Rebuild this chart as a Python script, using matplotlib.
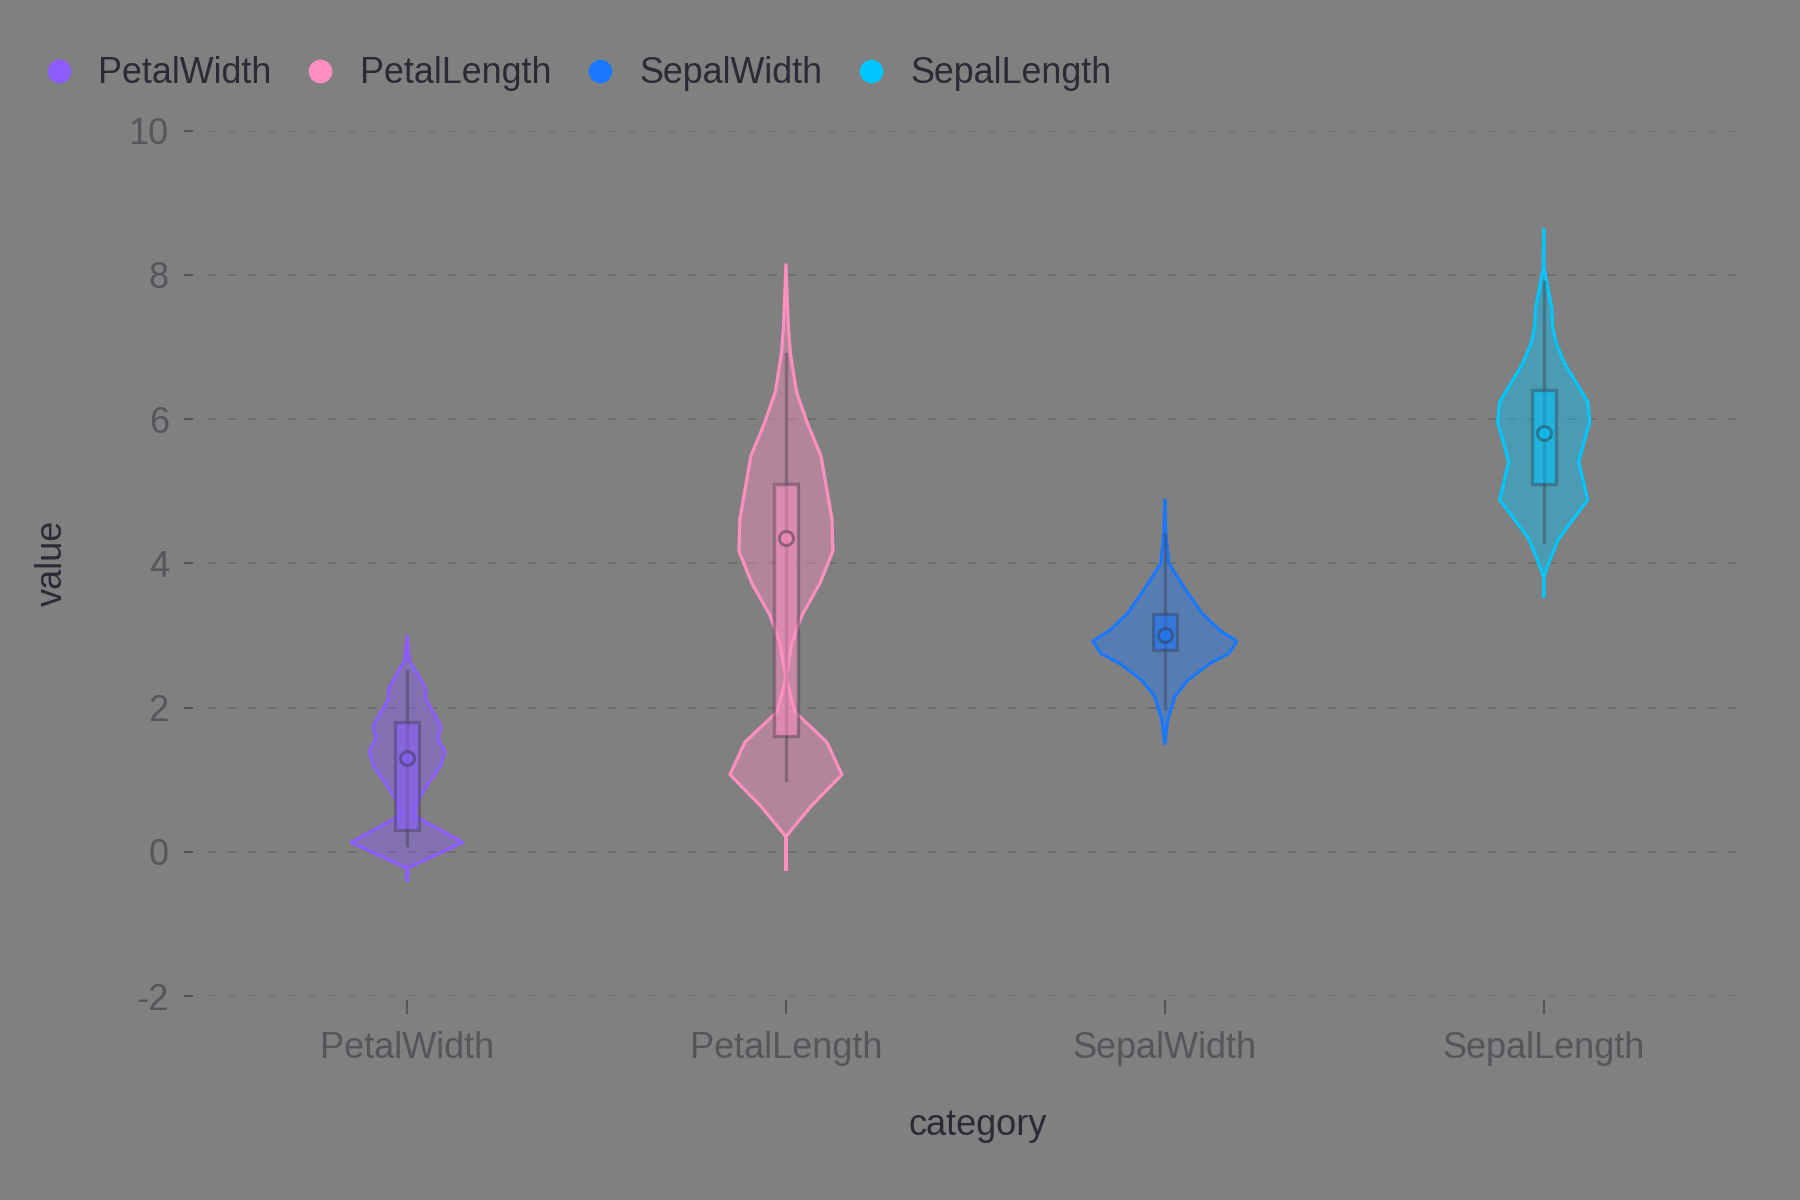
import numpy as np
import matplotlib.pyplot as plt
from matplotlib.lines import Line2D

plt.rcParams['font.family'] = ['Liberation Sans', 'DejaVu Sans']
plt.rcParams['axes.unicode_minus'] = False

categories = ['PetalWidth', 'PetalLength', 'SepalWidth', 'SepalLength']
colors = ['#8b5cff', '#ff8fc0', '#1a78ff', '#00c6ff']

# violin outlines: value levels and half widths
pw_levels = [-0.39, -0.23, 0.13, 0.51, 0.72, 0.90, 1.18, 1.39, 1.57, 1.74, 2.11, 2.28, 2.66, 2.99]
pw_width = [0, 0, 56, 6, 11, 19, 33, 38, 31, 34, 19, 18, 2, 0]

pl_levels = [-0.24, 0.21, 0.63, 1.07, 1.52, 1.94, 2.41, 2.89, 3.28, 3.72, 4.17, 4.62, 5.49, 5.96, 6.38, 6.91, 7.25, 8.14]
pl_width = [0, 0, 25, 56, 41, 9, 0, 6, 16, 34, 47, 46, 35, 21, 10.5, 4.5, 2.5, 0]

sw_levels = [1.51, 1.83, 2.15, 2.38, 2.61, 2.75, 2.92, 3.07, 3.31, 3.63, 4.00, 4.41, 4.88]
sw_width = [0, 3, 10, 23, 45, 64, 72, 55, 37, 21, 4, 1, 0]

sl_levels = [3.54, 3.81, 4.09, 4.34, 4.88, 5.41, 5.96, 6.24, 6.77, 7.05, 7.28, 7.55, 8.08, 8.63]
sl_width = [0, 0, 7.5, 15, 44, 35, 46, 44, 21, 12.5, 9, 8, 0.5, 0]

levels = [pw_levels, pl_levels, sw_levels, sl_levels]
widths = [pw_width, pl_width, sw_width, sl_width]

# box stats: min, q1, median, q3, max
mins = [0.1, 1.0, 2.0, 4.3]
q1s = [0.3, 1.6, 2.8, 5.1]
medians = [1.3, 4.35, 3.0, 5.8]
q3s = [1.8, 5.1, 3.3, 6.4]
maxs = [2.5, 6.9, 4.4, 7.9]

bg = '#808080'
dark = '#2b2b36'
tickc = '#55555c'
scale = 1 / 379.0
box_hw = 12 * scale

fig = plt.figure(figsize=(18, 12), dpi=100, facecolor=bg)
ax = fig.add_axes([0.115, 0.17, 0.851, 0.7212])
ax.set_facecolor(bg)

for i in range(len(categories)):
    v = np.array(levels[i])
    w = np.array(widths[i]) * scale
    xs = np.concatenate([i - w, (i + w)[::-1]])
    ys = np.concatenate([v, v[::-1]])
    ax.fill(xs, ys, facecolor=colors[i], alpha=0.4, edgecolor='none', zorder=2)
    ax.plot(xs, ys, color=colors[i], lw=2.3, zorder=3, solid_joinstyle='round')
    # whisker
    ax.plot([i, i], [mins[i], maxs[i]], color='#3a3a48', alpha=0.4, lw=2.4, zorder=4)
    # box
    ax.add_patch(plt.Rectangle((i - box_hw, q1s[i]), 2 * box_hw, q3s[i] - q1s[i],
                               facecolor=colors[i], alpha=0.55, edgecolor='none', zorder=5))
    ax.add_patch(plt.Rectangle((i - box_hw, q1s[i]), 2 * box_hw, q3s[i] - q1s[i],
                               facecolor='none', edgecolor='#3a3a48', alpha=0.4, lw=2.4, zorder=6))
    ax.plot([i], [medians[i]], marker='o', ms=10, mfc=colors[i], mec='#3a3a48',
            mew=2.2, alpha=0.5, zorder=7, ls='none')

ax.set_xlim(-0.528, 3.515)
ax.set_ylim(-2, 10)
ax.set_xticks(range(len(categories)))
ax.set_xticklabels(categories)
ax.set_yticks([-2, 0, 2, 4, 6, 8, 10])
ax.grid(axis='y', color='#6c6c6c', ls=(0, (6, 6)), lw=1.2)
ax.set_axisbelow(True)
for s in ax.spines.values():
    s.set_visible(False)
ax.spines['left'].set_position(('outward', 10))
ax.spines['bottom'].set_position(('outward', 3))
ax.tick_params(axis='y', length=6.5, width=1.5, color=tickc, labelcolor=tickc,
               labelsize=26, pad=11)
ax.tick_params(axis='x', length=10, width=1.5, color=tickc, labelcolor=tickc,
               labelsize=26, pad=12)

ax.set_ylabel('value', fontsize=26, color=dark, va='center')
ax.yaxis.set_label_coords(-0.101, 0.5)
ax.set_xlabel('category', fontsize=26, color=dark, va='center')
ax.xaxis.set_label_coords(0.503, -0.150)

handles = [Line2D([], [], marker='o', ls='none', ms=17, mfc=c, mec='none') for c in colors]
fig.legend(handles, categories, loc='upper left', bbox_to_anchor=(0.0027, 0.98),
           ncol=4, frameon=False, fontsize=25.8, labelcolor=dark,
           handletextpad=0.5, columnspacing=0.76, handlelength=1.2)

fig.savefig('out.png', dpi=100, facecolor=bg)
